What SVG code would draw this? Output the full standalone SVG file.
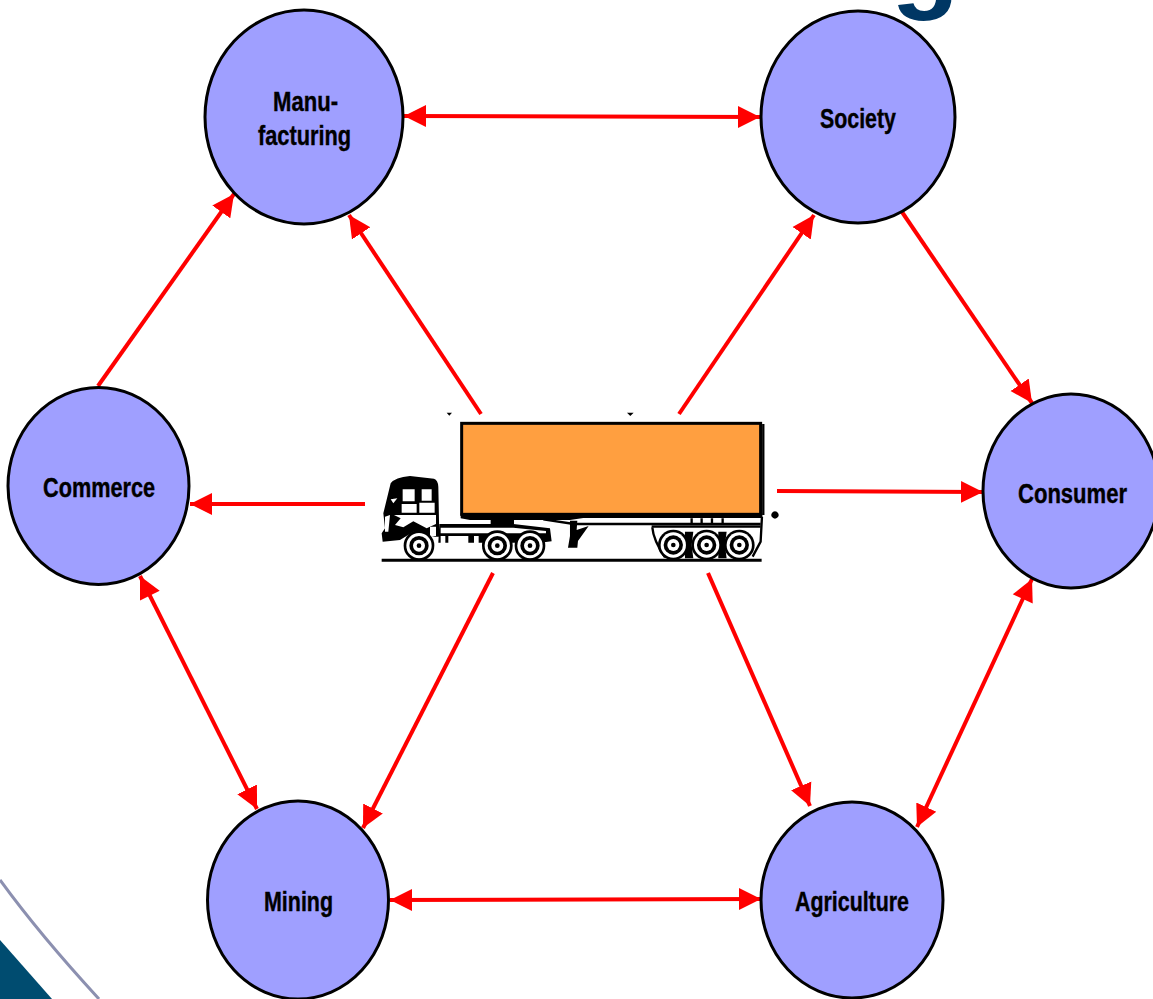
<svg xmlns="http://www.w3.org/2000/svg" width="1153" height="999" viewBox="0 0 1153 999">
<style>
.n{fill:#9f9fff;stroke:#000;stroke-width:3}
.t{font-family:"Liberation Sans",Arial,sans-serif;font-weight:bold;font-size:28px;fill:#000;stroke:#000;stroke-width:.4}
.c{stroke:#f00;stroke-width:4;fill:none;marker-end:url(#a)}
.b{marker-start:url(#s)}
.k{fill:#000}.w{fill:#fff}
.l{stroke:#000;fill:none}
</style>
<defs>
<marker id="a" markerUnits="userSpaceOnUse" markerWidth="24" markerHeight="24" refX="22" refY="12" orient="auto"><path d="M0,1 L22,12 L0,23 Z" fill="#f00"/></marker>
<marker id="s" markerUnits="userSpaceOnUse" markerWidth="24" markerHeight="24" refX="0" refY="12" orient="auto"><path d="M22,1 L0,12 L22,23 Z" fill="#f00"/></marker>
<g id="wh"><circle r="46" class="k"/><circle r="38" class="w"/><circle r="29" class="k"/><circle r="18" class="w"/><circle r="7" class="k"/></g>
</defs>
<rect width="1153" height="999" fill="#fff"/>
<g id="backdrop">
<path d="M0,940 L52,999 L0,999 Z" fill="#004c70"/>
<path d="M0,880 Q40,935 99,999" fill="none" stroke="#8c90b0" stroke-width="3"/>
<text x="891" y="-2" font-family="'Liberation Sans',Arial,sans-serif" font-weight="bold" font-size="112" fill="#003764">g</text>
</g>
<g id="connectors">
<line class="c b" x1="404" y1="116" x2="760" y2="117"/>
<line class="c" x1="98" y1="386" x2="234" y2="194"/>
<line class="c" x1="481" y1="414" x2="349" y2="215"/>
<line class="c" x1="679" y1="414" x2="814" y2="215"/>
<line class="c" x1="902" y1="212" x2="1032" y2="403"/>
<line class="c" x1="365" y1="504" x2="190" y2="504"/>
<line class="c" x1="777" y1="491" x2="983" y2="492"/>
<line class="c b" x1="140" y1="576" x2="257" y2="809"/>
<line class="c" x1="493" y1="573" x2="363" y2="828"/>
<line class="c" x1="708" y1="573" x2="810" y2="806"/>
<line class="c b" x1="1032" y1="579" x2="917" y2="827"/>
<line class="c b" x1="390" y1="900" x2="761" y2="899"/>
</g>
<g id="manufacturing"><ellipse class="n" cx="304" cy="117" rx="99" ry="107"/><text class="t" x="273" y="111" textLength="65" lengthAdjust="spacingAndGlyphs">Manu-</text><text class="t" x="258" y="145" textLength="93" lengthAdjust="spacingAndGlyphs">facturing</text></g>
<g id="society"><ellipse class="n" cx="858" cy="117" rx="97" ry="106"/><text class="t" x="820" y="128" textLength="76" lengthAdjust="spacingAndGlyphs">Society</text></g>
<g id="consumer"><ellipse class="n" cx="1071" cy="491" rx="88" ry="97"/><text class="t" x="1018" y="503" textLength="109" lengthAdjust="spacingAndGlyphs">Consumer</text></g>
<g id="commerce"><ellipse class="n" cx="98.500" cy="486" rx="90.500" ry="98.500"/><text class="t" x="43" y="497" textLength="112" lengthAdjust="spacingAndGlyphs">Commerce</text></g>
<g id="mining"><ellipse class="n" cx="298" cy="900" rx="90.500" ry="99"/><text class="t" x="264" y="911" textLength="69" lengthAdjust="spacingAndGlyphs">Mining</text></g>
<g id="agriculture"><ellipse class="n" cx="852" cy="900" rx="91" ry="98"/><text class="t" x="795" y="911" textLength="114" lengthAdjust="spacingAndGlyphs">Agriculture</text></g>
<g id="truck" transform="translate(370 400) scale(.3333)">
<path class="k" d="M230,38h16l-8,9zM771,38h20l-10,10zM1215,334a11,11 0 1,0 .1,0z"/>
<rect x="275" y="70" width="897" height="273" fill="#ff9f40" stroke="#000" stroke-width="9"/>
<path class="l" stroke-width="7" d="M1180,72V345"/>
<path class="k" d="M272,340h905v14H640L600,360H300L272,355z"/>
<path class="l" stroke-width="7" d="M520,358 612,372H1172M845,380H1172M965,355V376M995,355V376M1026,355V376M1058,355V376"/>
<path class="k" d="M208,372H430L540,385 545,424 510,428H205zM362,358h70v14h-70z"/>
<path class="k" d="M600,362h22l-2,28 36,-12 -32,45 -2,20h-28l6,-35z"/>
<path class="w" d="M212,383H430L528,393V400H212z"/>
<path class="l" stroke-width="7" d="M847,382Q850,420 885,472M1176,350 1172,425 1148,470"/>
<path class="k" d="M945,395h25l-5,40 5,40h-25zM1045,395h25l-5,40 5,40h-25z"/>
<path class="k" d="M38,425 35,400 45,385 40,340 62,250Q75,232 120,228L192,236Q204,240 205,260L208,410H195L130,395 90,420z"/>
<path class="w" d="M98,268h36v36H98zM155,268h30v34h-30zM95,312h45v26H95zM148,308h46v30h-46zM72,345 198,345 198,372 170,385 130,364 100,382 75,375 92,355zM45,350 60,345 55,395 45,395zM62,298 82,295 70,310z"/>
<path class="w" d="M180,380h18v28h-18zM235,408h60v27h-60zM212,408h14v27h-14zM312,408h14v27h-14z"/>
<use href="#wh" transform="translate(147 437)"/>
<use href="#wh" transform="translate(382 437)"/>
<use href="#wh" transform="translate(480 437)"/>
<use href="#wh" transform="translate(910 435)"/>
<use href="#wh" transform="translate(1010 435)"/>
<use href="#wh" transform="translate(1108 435)"/>
<path class="l" stroke-width="9" d="M35,481H1175"/>
</g>
</svg>
